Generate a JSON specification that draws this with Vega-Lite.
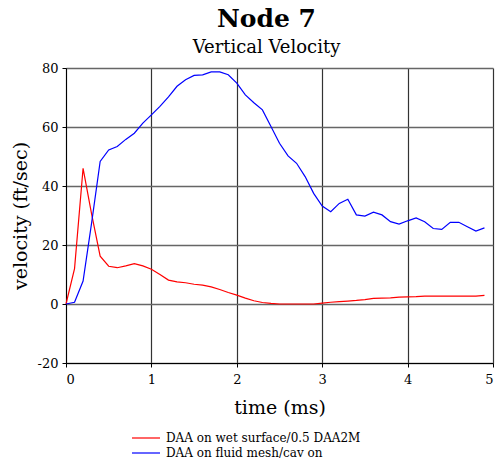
{
  "$schema": "https://vega.github.io/schema/vega-lite/v6.json",
  "autosize": "none",
  "width": 427,
  "height": 295,
  "padding": {"left": 66, "top": 68, "right": 8, "bottom": 104},
  "background": "white",
  "title": {
    "text": "Node 7",
    "subtitle": "Vertical Velocity",
    "font": "DejaVu Serif",
    "fontSize": 25,
    "fontWeight": "bold",
    "subtitleFont": "DejaVu Serif",
    "subtitleFontSize": 18,
    "subtitleColor": "black",
    "subtitlePadding": 7,
    "color": "black",
    "anchor": "middle",
    "dx": -13,
    "offset": 5
  },
  "config": {
    "view": {"stroke": null},
    "axis": {
      "labelFont": "DejaVu Serif",
      "titleFont": "DejaVu Serif",
      "labelColor": "black",
      "titleColor": "black",
      "labelFontSize": 13,
      "titleFontSize": 19,
      "titleFontWeight": "normal",
      "domainColor": "black",
      "tickColor": "black",
      "tickSize": 4
    }
  },
  "data": {
    "values": [
      {"t": 0, "v": 0, "s": "DAA on wet surface/0.5 DAA2M"},
      {"t": 0.1, "v": 12, "s": "DAA on wet surface/0.5 DAA2M"},
      {"t": 0.2, "v": 46, "s": "DAA on wet surface/0.5 DAA2M"},
      {"t": 0.3, "v": 30.5, "s": "DAA on wet surface/0.5 DAA2M"},
      {"t": 0.4, "v": 16.2, "s": "DAA on wet surface/0.5 DAA2M"},
      {"t": 0.5, "v": 12.8, "s": "DAA on wet surface/0.5 DAA2M"},
      {"t": 0.6, "v": 12.3, "s": "DAA on wet surface/0.5 DAA2M"},
      {"t": 0.7, "v": 12.9, "s": "DAA on wet surface/0.5 DAA2M"},
      {"t": 0.8, "v": 13.7, "s": "DAA on wet surface/0.5 DAA2M"},
      {"t": 0.9, "v": 12.9, "s": "DAA on wet surface/0.5 DAA2M"},
      {"t": 1.0, "v": 11.8, "s": "DAA on wet surface/0.5 DAA2M"},
      {"t": 1.1, "v": 10.0, "s": "DAA on wet surface/0.5 DAA2M"},
      {"t": 1.2, "v": 8.1, "s": "DAA on wet surface/0.5 DAA2M"},
      {"t": 1.3, "v": 7.5, "s": "DAA on wet surface/0.5 DAA2M"},
      {"t": 1.4, "v": 7.2, "s": "DAA on wet surface/0.5 DAA2M"},
      {"t": 1.5, "v": 6.7, "s": "DAA on wet surface/0.5 DAA2M"},
      {"t": 1.6, "v": 6.4, "s": "DAA on wet surface/0.5 DAA2M"},
      {"t": 1.7, "v": 5.8, "s": "DAA on wet surface/0.5 DAA2M"},
      {"t": 1.8, "v": 4.9, "s": "DAA on wet surface/0.5 DAA2M"},
      {"t": 1.9, "v": 3.9, "s": "DAA on wet surface/0.5 DAA2M"},
      {"t": 2.0, "v": 3.0, "s": "DAA on wet surface/0.5 DAA2M"},
      {"t": 2.1, "v": 2.0, "s": "DAA on wet surface/0.5 DAA2M"},
      {"t": 2.2, "v": 1.1, "s": "DAA on wet surface/0.5 DAA2M"},
      {"t": 2.3, "v": 0.5, "s": "DAA on wet surface/0.5 DAA2M"},
      {"t": 2.4, "v": 0.2, "s": "DAA on wet surface/0.5 DAA2M"},
      {"t": 2.5, "v": 0, "s": "DAA on wet surface/0.5 DAA2M"},
      {"t": 2.6, "v": 0, "s": "DAA on wet surface/0.5 DAA2M"},
      {"t": 2.7, "v": 0, "s": "DAA on wet surface/0.5 DAA2M"},
      {"t": 2.8, "v": 0, "s": "DAA on wet surface/0.5 DAA2M"},
      {"t": 2.9, "v": 0, "s": "DAA on wet surface/0.5 DAA2M"},
      {"t": 3.0, "v": 0.3, "s": "DAA on wet surface/0.5 DAA2M"},
      {"t": 3.1, "v": 0.6, "s": "DAA on wet surface/0.5 DAA2M"},
      {"t": 3.2, "v": 0.8, "s": "DAA on wet surface/0.5 DAA2M"},
      {"t": 3.3, "v": 1.0, "s": "DAA on wet surface/0.5 DAA2M"},
      {"t": 3.4, "v": 1.2, "s": "DAA on wet surface/0.5 DAA2M"},
      {"t": 3.5, "v": 1.5, "s": "DAA on wet surface/0.5 DAA2M"},
      {"t": 3.6, "v": 1.9, "s": "DAA on wet surface/0.5 DAA2M"},
      {"t": 3.7, "v": 2.0, "s": "DAA on wet surface/0.5 DAA2M"},
      {"t": 3.8, "v": 2.1, "s": "DAA on wet surface/0.5 DAA2M"},
      {"t": 3.9, "v": 2.3, "s": "DAA on wet surface/0.5 DAA2M"},
      {"t": 4.0, "v": 2.4, "s": "DAA on wet surface/0.5 DAA2M"},
      {"t": 4.1, "v": 2.5, "s": "DAA on wet surface/0.5 DAA2M"},
      {"t": 4.2, "v": 2.7, "s": "DAA on wet surface/0.5 DAA2M"},
      {"t": 4.3, "v": 2.7, "s": "DAA on wet surface/0.5 DAA2M"},
      {"t": 4.4, "v": 2.7, "s": "DAA on wet surface/0.5 DAA2M"},
      {"t": 4.5, "v": 2.7, "s": "DAA on wet surface/0.5 DAA2M"},
      {"t": 4.6, "v": 2.7, "s": "DAA on wet surface/0.5 DAA2M"},
      {"t": 4.7, "v": 2.7, "s": "DAA on wet surface/0.5 DAA2M"},
      {"t": 4.8, "v": 2.7, "s": "DAA on wet surface/0.5 DAA2M"},
      {"t": 4.9, "v": 2.9, "s": "DAA on wet surface/0.5 DAA2M"},
      {"t": 0, "v": 0, "s": "DAA on fluid mesh/cav on"},
      {"t": 0.1, "v": 0.6, "s": "DAA on fluid mesh/cav on"},
      {"t": 0.2, "v": 7.8, "s": "DAA on fluid mesh/cav on"},
      {"t": 0.3, "v": 27.5, "s": "DAA on fluid mesh/cav on"},
      {"t": 0.4, "v": 48.3, "s": "DAA on fluid mesh/cav on"},
      {"t": 0.5, "v": 52.2, "s": "DAA on fluid mesh/cav on"},
      {"t": 0.6, "v": 53.4, "s": "DAA on fluid mesh/cav on"},
      {"t": 0.7, "v": 55.8, "s": "DAA on fluid mesh/cav on"},
      {"t": 0.8, "v": 57.9, "s": "DAA on fluid mesh/cav on"},
      {"t": 0.9, "v": 61.3, "s": "DAA on fluid mesh/cav on"},
      {"t": 1.0, "v": 64.1, "s": "DAA on fluid mesh/cav on"},
      {"t": 1.1, "v": 67.0, "s": "DAA on fluid mesh/cav on"},
      {"t": 1.2, "v": 70.2, "s": "DAA on fluid mesh/cav on"},
      {"t": 1.3, "v": 73.8, "s": "DAA on fluid mesh/cav on"},
      {"t": 1.4, "v": 76.0, "s": "DAA on fluid mesh/cav on"},
      {"t": 1.5, "v": 77.5, "s": "DAA on fluid mesh/cav on"},
      {"t": 1.6, "v": 77.7, "s": "DAA on fluid mesh/cav on"},
      {"t": 1.7, "v": 78.7, "s": "DAA on fluid mesh/cav on"},
      {"t": 1.8, "v": 78.7, "s": "DAA on fluid mesh/cav on"},
      {"t": 1.9, "v": 77.7, "s": "DAA on fluid mesh/cav on"},
      {"t": 2.0, "v": 74.9, "s": "DAA on fluid mesh/cav on"},
      {"t": 2.1, "v": 70.9, "s": "DAA on fluid mesh/cav on"},
      {"t": 2.2, "v": 68.2, "s": "DAA on fluid mesh/cav on"},
      {"t": 2.3, "v": 65.8, "s": "DAA on fluid mesh/cav on"},
      {"t": 2.4, "v": 60.2, "s": "DAA on fluid mesh/cav on"},
      {"t": 2.5, "v": 54.5, "s": "DAA on fluid mesh/cav on"},
      {"t": 2.6, "v": 50.2, "s": "DAA on fluid mesh/cav on"},
      {"t": 2.7, "v": 47.7, "s": "DAA on fluid mesh/cav on"},
      {"t": 2.8, "v": 43.2, "s": "DAA on fluid mesh/cav on"},
      {"t": 2.9, "v": 37.5, "s": "DAA on fluid mesh/cav on"},
      {"t": 3.0, "v": 33.2, "s": "DAA on fluid mesh/cav on"},
      {"t": 3.1, "v": 31.3, "s": "DAA on fluid mesh/cav on"},
      {"t": 3.2, "v": 34.1, "s": "DAA on fluid mesh/cav on"},
      {"t": 3.3, "v": 35.5, "s": "DAA on fluid mesh/cav on"},
      {"t": 3.4, "v": 30.2, "s": "DAA on fluid mesh/cav on"},
      {"t": 3.5, "v": 29.8, "s": "DAA on fluid mesh/cav on"},
      {"t": 3.6, "v": 31.1, "s": "DAA on fluid mesh/cav on"},
      {"t": 3.7, "v": 30.2, "s": "DAA on fluid mesh/cav on"},
      {"t": 3.8, "v": 27.9, "s": "DAA on fluid mesh/cav on"},
      {"t": 3.9, "v": 27.1, "s": "DAA on fluid mesh/cav on"},
      {"t": 4.0, "v": 28.2, "s": "DAA on fluid mesh/cav on"},
      {"t": 4.1, "v": 29.2, "s": "DAA on fluid mesh/cav on"},
      {"t": 4.2, "v": 27.9, "s": "DAA on fluid mesh/cav on"},
      {"t": 4.3, "v": 25.6, "s": "DAA on fluid mesh/cav on"},
      {"t": 4.4, "v": 25.3, "s": "DAA on fluid mesh/cav on"},
      {"t": 4.5, "v": 27.7, "s": "DAA on fluid mesh/cav on"},
      {"t": 4.6, "v": 27.7, "s": "DAA on fluid mesh/cav on"},
      {"t": 4.7, "v": 26.2, "s": "DAA on fluid mesh/cav on"},
      {"t": 4.8, "v": 24.7, "s": "DAA on fluid mesh/cav on"},
      {"t": 4.9, "v": 25.8, "s": "DAA on fluid mesh/cav on"}
    ]
  },
  "mark": {"type": "line", "strokeWidth": 1.2},
  "encoding": {
    "x": {
      "field": "t",
      "type": "quantitative",
      "title": "time (ms)",
      "scale": {"domain": [0, 5], "nice": false},
      "axis": {
        "values": [0, 1, 2, 3, 4, 5],
        "grid": true,
        "gridColor": "#333",
        "gridWidth": 1.2,
        "gridOpacity": 1,
        "labelPadding": 6,
        "titlePadding": 12
      }
    },
    "y": {
      "field": "v",
      "type": "quantitative",
      "title": "velocity (ft/sec)",
      "scale": {"domain": [-20, 80], "nice": false},
      "axis": {
        "values": [-20, 0, 20, 40, 60, 80],
        "labelExpr": "datum.value",
        "grid": true,
        "gridColor": "#666",
        "gridWidth": 1.6,
        "gridOpacity": 1,
        "labelPadding": 4,
        "titlePadding": 7
      }
    },
    "color": {
      "field": "s",
      "type": "nominal",
      "sort": ["DAA on wet surface/0.5 DAA2M", "DAA on fluid mesh/cav on"],
      "scale": {
        "domain": ["DAA on wet surface/0.5 DAA2M", "DAA on fluid mesh/cav on"],
        "range": ["#ff0000", "#0000ff"]
      },
      "legend": {
        "title": null,
        "orient": "none",
        "legendX": 72,
        "legendY": 362,
        "symbolType": "M-2,0H2",
        "symbolSize": 196,
        "symbolStrokeWidth": 1.2,
        "labelFont": "DejaVu Serif",
        "labelFontSize": 12,
        "labelColor": "black",
        "labelOffset": 12,
        "rowPadding": 1,
        "labelLimit": 400
      }
    }
  }
}
